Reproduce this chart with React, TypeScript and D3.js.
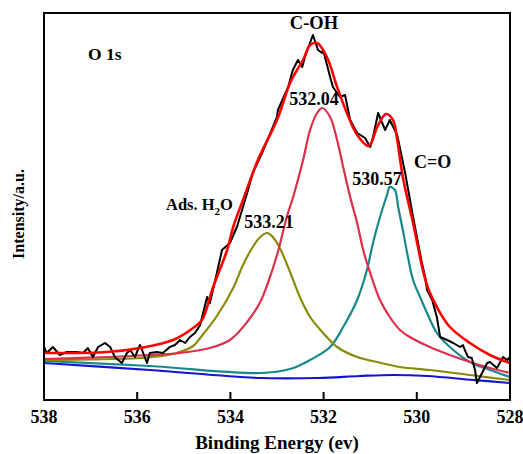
import * as d3 from "d3";

// O 1s XPS spectrum
// each point: [binding energy (eV), intensity (a.u.)]
const rawData: [number, number][] = [
  [538.0, 53], [537.94, 47], [537.81, 53], [537.66, 45], [537.51, 48], [537.29, 48],
  [537.16, 47], [537.06, 52], [536.95, 43], [536.84, 53], [536.69, 57], [536.58, 53],
  [536.48, 43], [536.33, 37], [536.22, 47], [536.15, 50], [536.05, 43], [535.94, 55],
  [535.88, 48], [535.79, 37], [535.73, 47], [535.58, 48], [535.45, 47], [535.3, 53],
  [535.19, 55], [535.08, 60], [534.97, 57], [534.87, 63], [534.76, 67], [534.65, 75],
  [534.5, 103], [534.44, 97], [534.29, 127], [534.18, 150], [534.01, 157], [533.86, 173],
  [533.73, 193], [533.64, 207], [533.52, 227], [533.32, 247], [533.0, 283], [532.98, 290],
  [532.76, 313], [532.66, 330], [532.55, 340], [532.46, 333], [532.4, 343], [532.23, 365],
  [532.12, 350], [532.03, 347], [532.01, 350], [531.86, 323], [531.8, 313], [531.65, 303],
  [531.54, 305], [531.43, 280], [531.28, 267], [531.11, 262], [531.0, 253], [530.94, 263],
  [530.83, 287], [530.68, 270], [530.58, 280], [530.42, 265], [530.25, 227], [530.08, 183],
  [529.89, 137], [529.82, 123], [529.78, 110], [529.67, 100], [529.57, 83], [529.5, 63],
  [529.35, 60], [529.22, 57], [529.07, 53], [529.01, 55], [528.97, 50], [528.9, 43],
  [528.82, 42], [528.75, 30], [528.71, 17], [528.6, 27], [528.49, 37], [528.43, 38],
  [528.28, 32], [528.15, 43], [528.06, 40], [528.0, 43],
];

const envelope: [number, number][] = [
  [538.0, 47], [536.65, 48], [535.94, 52], [535.23, 60], [534.8, 72], [534.61, 80],
  [534.37, 113], [534.07, 150], [533.94, 173], [533.73, 200], [533.41, 240], [533.0, 280],
  [532.72, 317], [532.57, 330], [532.44, 340], [532.29, 355], [532.14, 357], [531.93, 343],
  [531.71, 313], [531.5, 287], [531.28, 265], [531.03, 254], [530.85, 273], [530.66, 286],
  [530.51, 280], [530.42, 260], [530.3, 223], [530.08, 177], [529.87, 130], [529.76, 112],
  [529.57, 93], [529.29, 73], [528.86, 57], [528.43, 45], [528.0, 37],
];

const peakCOH: [number, number][] = [
  [538.0, 41], [536.58, 43], [535.73, 45], [535.08, 47], [534.44, 52], [534.01, 60],
  [533.64, 78], [533.36, 98], [533.21, 115], [533.0, 145], [532.79, 183], [532.66, 202],
  [532.44, 240], [532.29, 270], [532.14, 287], [532.03, 292], [531.86, 283], [531.71, 260],
  [531.58, 233], [531.43, 203], [531.28, 177], [531.15, 150], [531.0, 127], [530.79, 100],
  [530.58, 83], [530.36, 70], [530.15, 63], [529.72, 53], [529.29, 45], [528.86, 38],
  [528.43, 32], [528.0, 27],
];

const peakH2O: [number, number][] = [
  [538.0, 40], [535.94, 42], [535.23, 46], [534.8, 54], [534.65, 62], [534.29, 84],
  [533.94, 112], [533.73, 135], [533.52, 153], [533.36, 163], [533.21, 167], [533.09, 163],
  [532.94, 152], [532.72, 128], [532.51, 103], [532.29, 83], [532.01, 67], [531.71, 53],
  [531.28, 43], [530.85, 38], [530.36, 33], [529.72, 30], [528.86, 25], [528.0, 20],
];

const peakCO: [number, number][] = [
  [538.0, 39], [535.73, 34], [533.36, 27], [532.72, 31], [532.29, 40], [531.86, 53],
  [531.58, 73], [531.28, 100], [531.07, 130], [530.94, 157], [530.79, 183], [530.64, 205],
  [530.58, 213], [530.47, 210], [530.4, 193], [530.3, 170], [530.19, 143], [530.08, 120],
  [529.93, 103], [529.78, 87], [529.57, 67], [529.29, 53], [528.86, 38], [528.43, 30],
  [528.0, 23],
];

const background: [number, number][] = [
  [538.0, 37], [535.73, 30], [533.36, 22], [532.12, 22], [531.22, 24], [530.51, 25],
  [529.78, 24], [528.79, 20], [528.0, 17],
];

const xTicks = [538, 536, 534, 532, 530, 528];

const W = 523;
const H = 454;
const left = 44;
const right = 510;
const top = 13;
const bottom = 400;
const font = "'Times New Roman', 'Liberation Serif', serif";

export default function App() {
  const x = d3.scaleLinear().domain([538, 528]).range([left, right]);
  const y = d3.scaleLinear().domain([0, 387]).range([bottom, top]);

  const smooth = d3
    .line<[number, number]>()
    .x((d) => x(d[0]))
    .y((d) => y(d[1]))
    .curve(d3.curveCatmullRom.alpha(0.5));
  const jagged = d3
    .line<[number, number]>()
    .x((d) => x(d[0]))
    .y((d) => y(d[1]));

  const txt = { fontFamily: font, fontWeight: 700, fill: "#000" } as const;

  return (
    <svg
      width={W}
      height={H}
      style={{ position: "absolute", left: 0, top: 0, background: "#fff" }}
    >
      <defs>
        <clipPath id="plot">
          <rect x={left} y={top} width={right - left} height={bottom - top} />
        </clipPath>
      </defs>
      <g clipPath="url(#plot)" fill="none" strokeLinejoin="round">
        <path d={smooth(background)!} stroke="#1414d2" strokeWidth={2.2} />
        <path d={smooth(peakCO)!} stroke="#17898a" strokeWidth={2.2} />
        <path d={smooth(peakH2O)!} stroke="#8a8a0a" strokeWidth={2.2} />
        <path d={smooth(peakCOH)!} stroke="#dc2f4c" strokeWidth={2.2} />
        <path d={jagged(rawData)!} stroke="#000" strokeWidth={2} />
        <path d={smooth(envelope)!} stroke="#ff0000" strokeWidth={2.6} />
      </g>

      <rect
        x={left}
        y={top}
        width={right - left}
        height={bottom - top}
        fill="none"
        stroke="#000"
        strokeWidth={2}
      />
      {xTicks.map((t) => (
        <g key={t}>
          <line x1={x(t)} x2={x(t)} y1={bottom} y2={bottom - 8} stroke="#000" strokeWidth={2} />
          <text x={x(t)} y={423} textAnchor="middle" fontSize={18} {...txt}>
            {t}
          </text>
        </g>
      ))}
      <text x={277} y={449} textAnchor="middle" fontSize={19} {...txt}>
        Binding Energy (ev)
      </text>
      <text
        transform="translate(24,214) rotate(-90)"
        textAnchor="middle"
        fontSize={16}
        {...txt}
      >
        Intensity/a.u.
      </text>

      <text x={88} y={60} fontSize={17.5} {...txt}>O 1s</text>
      <text x={314} y={29} textAnchor="middle" fontSize={18.5} {...txt}>C-OH</text>
      <text x={314} y={105} textAnchor="middle" fontSize={18} {...txt}>532.04</text>
      <text x={414} y={168} fontSize={18} {...txt}>C=O</text>
      <text x={377} y={185} textAnchor="middle" fontSize={18} {...txt}>530.57</text>
      <text x={166} y={210} fontSize={16.5} {...txt}>
        Ads. H
        <tspan fontSize={11} dy={5}>2</tspan>
        <tspan dy={-5}>O</tspan>
      </text>
      <text x={269} y={228} textAnchor="middle" fontSize={18} {...txt}>533.21</text>
    </svg>
  );
}
